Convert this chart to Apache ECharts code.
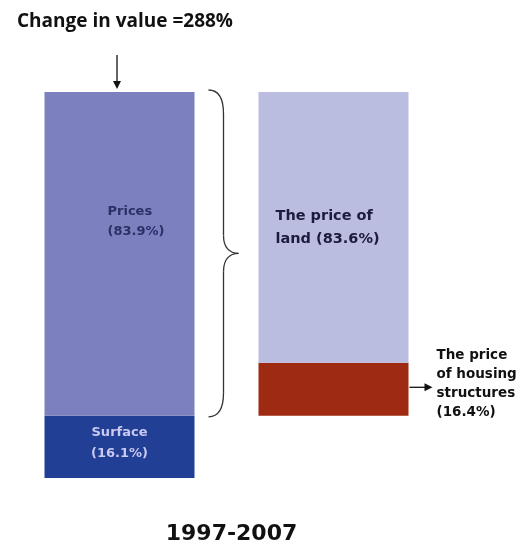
<!DOCTYPE html>
<html>
<head>
<meta charset="utf-8">
<script src="https://cdn.jsdelivr.net/npm/echarts@6/dist/echarts.min.js"></script>
<style>
  html, body { margin: 0; padding: 0; background: #fff; }
  #chart { width: 523px; height: 544px; }
</style>
</head>
<body>
<div id="chart"></div>
<script>
// Decomposition of the change in housing value, 1997-2007
const categories = ['Value', 'Prices'];
const valueParts = ['Surface', 'Prices'];
const valueShares = [16.1, 83.9];            // % of the change in value
const priceParts = ['The price\nof housing\nstructures', 'The price of\nland'];
const priceShares = [16.4, 83.6];            // % of the price component
const totalChange = 288;                      // % change in value
const period = '1997-2007';

const colors = {
  surface: '#223f96',
  prices: '#7c80be',
  land: '#babce0',
  structures: '#9e2a12'
};

const chart = echarts.init(document.getElementById('chart'));

// the price bar breaks down the "Prices" part of the value bar, so it sits on top of "Surface"
const priceTotal = valueShares[1];
const structuresVal = priceTotal * priceShares[0] / 100;
const landVal = priceTotal * priceShares[1] / 100;

const labelFont = 'DejaVu Sans';

chart.setOption({
  animation: false,
  title: {
    text: 'Change in value =' + totalChange + '%',
    left: 12, top: 7,
    textStyle: { fontFamily: 'Open Sans', fontWeight: 'bold', fontSize: 19, color: '#111' }
  },
  grid: { left: 12.5, right: 82.5, top: 92, bottom: 66 },
  xAxis: {
    type: 'category', data: categories, show: false
  },
  yAxis: { type: 'value', min: 0, max: 100, show: false },
  series: [
    {
      name: valueParts[0], type: 'bar', stack: 'v', barWidth: 150,
      data: [valueShares[0], '-'],
      itemStyle: { color: colors.surface },
      label: {
        show: true, position: ['50%', '44%'], align: 'center', verticalAlign: 'middle',
        formatter: () => valueParts[0] + '\n(' + valueShares[0] + '%)',
        fontFamily: labelFont, fontWeight: 'bold', fontSize: 13, lineHeight: 21, color: '#c9c9f2'
      }
    },
    {
      name: valueParts[1], type: 'bar', stack: 'v', barWidth: 150,
      data: [valueShares[1], '-'],
      itemStyle: { color: colors.prices },
      label: {
        show: true, position: ['42%', '40%'], align: 'left', verticalAlign: 'middle',
        formatter: () => valueParts[1] + '\n(' + valueShares[1] + '%)',
        fontFamily: labelFont, fontWeight: 'bold', fontSize: 13, lineHeight: 20, color: '#2b2f66'
      }
    },
    {
      name: 'base', type: 'bar', stack: 'v', barWidth: 150, silent: true,
      data: ['-', valueShares[0]],
      itemStyle: { color: 'transparent' }
    },
    {
      name: 'structures', type: 'bar', stack: 'v', barWidth: 150,
      data: ['-', structuresVal],
      itemStyle: { color: colors.structures },
      label: {
        show: true, position: 'right', distance: 28, align: 'left', offset: [0, -5],
        formatter: () => priceParts[0] + '\n(' + priceShares[0] + '%)',
        fontFamily: labelFont, fontWeight: 'bold', fontSize: 13.5, lineHeight: 19, color: '#111'
      }
    },
    {
      name: 'land', type: 'bar', stack: 'v', barWidth: 150,
      data: ['-', landVal],
      itemStyle: { color: colors.land },
      label: {
        show: true, position: 'insideLeft', distance: 17, align: 'left',
        formatter: () => priceParts[1] + ' (' + priceShares[1] + '%)',
        fontFamily: labelFont, fontWeight: 'bold', fontSize: 14.5, lineHeight: 23, color: '#1c1c3c'
      }
    }
  ]
});

// annotations placed from the axis scales
function drawAnnotations() {
  const leftX = chart.convertToPixel({ xAxisIndex: 0 }, categories[0]);
  const rightX = chart.convertToPixel({ xAxisIndex: 0 }, categories[1]);
  const yTop = chart.convertToPixel({ yAxisIndex: 0 }, 100);
  const yBase = chart.convertToPixel({ yAxisIndex: 0 }, 0);
  const ySurf = chart.convertToPixel({ yAxisIndex: 0 }, valueShares[0]);
  const yStruct = chart.convertToPixel({ yAxisIndex: 0 }, valueShares[0] + structuresVal);
  const half = 75;

  // brace around the price part of the value bar
  const bx0 = leftX + half + 14, spine = leftX + half + 29, tip = leftX + half + 44;
  const t = yTop - 2, b = ySurf + 1, m = (t + b) / 2;
  const stroke = { stroke: '#333', lineWidth: 1.3, fill: 'none' };
  const curve = (x1, y1, c1x, c1y, c2x, c2y, x2, y2) => ({
    type: 'bezierCurve',
    shape: { x1, y1, cpx1: c1x, cpy1: c1y, cpx2: c2x, cpy2: c2y, x2, y2 },
    style: stroke
  });
  const seg = (x1, y1, x2, y2, s) => ({ type: 'line', shape: { x1, y1, x2, y2 }, style: s || stroke });

  const arrowX = leftX - 2.5;
  const redY = (yStruct + ySurf) / 2 - 2;
  const ax0 = rightX + half + 1, ax1 = rightX + half + 24;
  const dark = { stroke: '#111', lineWidth: 1.3 };

  chart.setOption({
    graphic: [
      curve(bx0, t, bx0 + 10, t, spine, t + 8, spine, t + 24),
      seg(spine, t + 24, spine, m - 18),
      curve(spine, m - 18, spine, m - 6, spine + 6, m, tip, m),
      curve(tip, m, spine + 6, m, spine, m + 6, spine, m + 18),
      seg(spine, m + 18, spine, b - 24),
      curve(spine, b - 24, spine, b - 8, bx0 + 10, b, bx0, b),
      // arrow down onto the value bar
      seg(arrowX, 55, arrowX, yTop - 9, dark),
      { type: 'polygon', shape: { points: [[arrowX - 4, yTop - 11], [arrowX + 4, yTop - 11], [arrowX, yTop - 3]] }, style: { fill: '#111' } },
      // arrow from the structures segment to its label
      seg(ax0, redY, ax1 - 6, redY, dark),
      { type: 'polygon', shape: { points: [[ax1 - 8, redY - 4], [ax1 - 8, redY + 4], [ax1, redY]] }, style: { fill: '#111' } },
      {
        type: 'text', x: (leftX + rightX) / 2 + 5, y: yBase + 45,
        style: { text: period, font: 'bold 22px "DejaVu Sans"', fill: '#111', align: 'center' }
      }
    ]
  });
}
drawAnnotations();
</script>
</body>
</html>
